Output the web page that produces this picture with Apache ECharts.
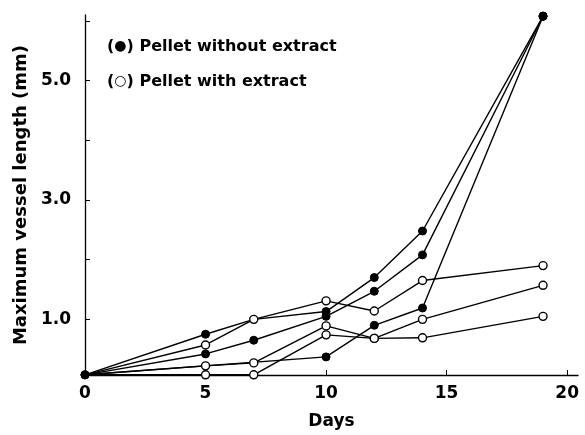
<!DOCTYPE html>
<html>
<head>
<meta charset="utf-8">
<script src="https://cdn.jsdelivr.net/npm/echarts@6/dist/echarts.min.js"></script>
<style>html,body{margin:0;padding:0;background:#fff}#c{width:585px;height:435px}</style>
</head>
<body>
<div id="c"></div>
<script>
// Days of measurement per animal
const daysFull = [0, 5, 7, 10, 12, 14, 19];
const daysShort = [0, 10, 12, 14, 19];

// Pellet without extract (filled circles)
const noExtract1 = [0.07, 0.75, 1.00, 1.13, 1.70, 2.48, 6.08];
const noExtract2 = [0.07, 0.42, 0.65, 1.05, 1.47, 2.08, 6.08];
const noExtract3 = [0.07, 0.37, 0.90, 1.19, 6.08];

// Pellet with extract (open circles)
const withExtract1 = [0.07, 0.57, 1.00, 1.31, 1.14, 1.65, 1.90];
const withExtract2 = [0.07, 0.22, 0.27, 0.89, 0.68, 1.00, 1.57];
const withExtract3 = [0.07, 0.07, 0.07, 0.74, 0.68, 0.69, 1.05];

const xTicks = [0, 5, 10, 15, 20];
const yTicks = [1, 2, 3, 4, 5, 6];
const yLabels = [1, 3, 5];

const FONT = 'DejaVu Sans';

function pairs(days, vals, hideIdx) {
  return vals.map((v, i) => {
    const d = { value: [days[i], v] };
    if (hideIdx && hideIdx.indexOf(i) >= 0) d.symbol = 'none';
    return d;
  });
}

function filled(days, vals, hide) {
  return {
    type: 'line', data: pairs(days, vals, hide), symbol: 'circle', symbolSize: 8,
    clip: false, z: 2,
    lineStyle: { color: '#000', width: 1.4 },
    itemStyle: { color: '#000', borderColor: '#000', borderWidth: 1 },
    animation: false
  };
}
function open(days, vals, hide) {
  return {
    type: 'line', data: pairs(days, vals, hide), symbol: 'circle', symbolSize: 8,
    clip: false, z: 3,
    lineStyle: { color: '#000', width: 1.4 },
    itemStyle: { color: '#fff', borderColor: '#000', borderWidth: 1.4 },
    animation: false
  };
}

const legendRich = {
  t: { fontFamily: FONT, fontWeight: 'bold', fontSize: 16, fill: '#000', color: '#000', verticalAlign: 'middle' },
  s: { fontFamily: FONT, fontWeight: 'bold', fontSize: 14, fill: '#000', color: '#000', verticalAlign: 'middle', padding: [0, 0, 2, 0] }
};

const chart = echarts.init(document.getElementById('c'));
chart.setOption({
  backgroundColor: '#fff',
  animation: false,
  grid: { left: 85, right: 7, top: 15, bottom: 58 },
  xAxis: {
    type: 'value', min: 0, max: 20.45,
    name: 'Days', nameLocation: 'middle', nameGap: 38,
    nameTextStyle: { fontFamily: FONT, fontWeight: 'bold', fontSize: 17, color: '#000' },
    axisLine: { lineStyle: { color: '#000', width: 1.3 } },
    axisTick: { show: true, inside: true, length: 5, customValues: xTicks, lineStyle: { color: '#000' } },
    axisLabel: { customValues: xTicks, margin: 10, fontFamily: FONT, fontWeight: 'bold', fontSize: 17, color: '#000' },
    splitLine: { show: false }
  },
  yAxis: {
    type: 'value', min: 0.067, max: 6.1,
    name: 'Maximum vessel length (mm)', nameLocation: 'middle', nameGap: 55,
    nameTextStyle: { fontFamily: FONT, fontWeight: 'bold', fontSize: 18, color: '#000' },
    axisLine: { show: true, lineStyle: { color: '#000', width: 1.3 } },
    axisTick: { show: true, inside: true, length: 5, customValues: yTicks, lineStyle: { color: '#000' } },
    axisLabel: { customValues: yLabels, margin: 14, formatter: v => v.toFixed(1), fontFamily: FONT, fontWeight: 'bold', fontSize: 17, color: '#000' },
    splitLine: { show: false }
  },
  series: [
    filled(daysFull, noExtract1, [2]),
    filled(daysFull, noExtract2),
    filled(daysShort, noExtract3),
    open(daysFull, withExtract1, [0]),
    open(daysFull, withExtract2, [0]),
    open(daysFull, withExtract3, [0])
  ],
  graphic: [
    { type: 'text', left: 107, top: 39, style: { text: '{t|(}{s|●}{t|) Pellet without extract}', rich: legendRich } },
    { type: 'text', left: 107, top: 74, style: { text: '{t|(}{s|○}{t|) Pellet with extract}', rich: legendRich } }
  ]
});
</script>
</body>
</html>
